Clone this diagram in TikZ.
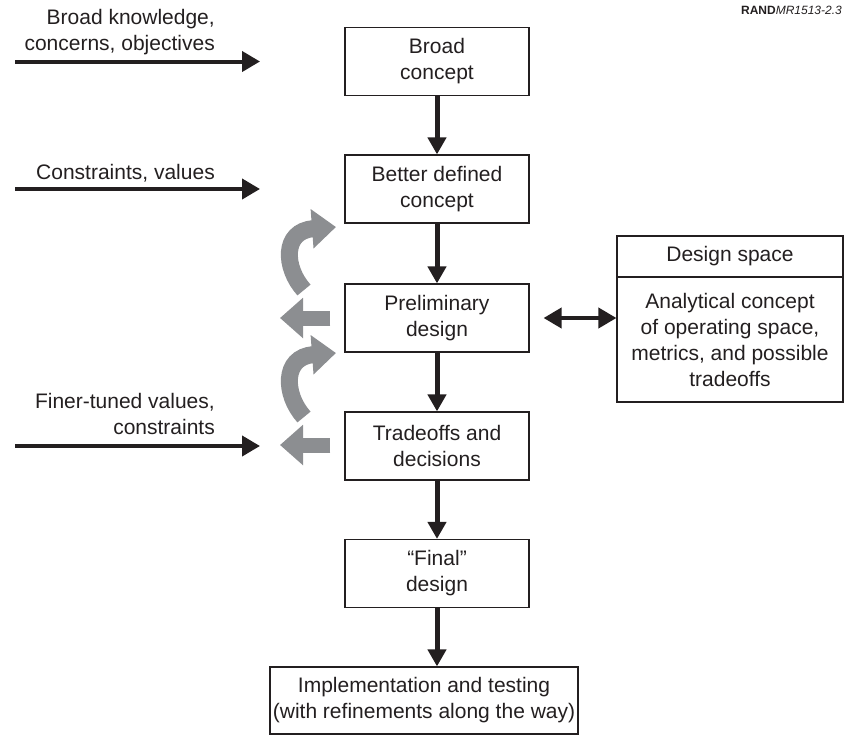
\documentclass[tikz,border=0pt]{standalone}
\usepackage{fontspec}
\setmainfont{Liberation Sans}
\usetikzlibrary{arrows.meta}
\definecolor{ink}{HTML}{231F20}
\definecolor{gcol}{HTML}{8C8E91}
\begin{document}
\begin{tikzpicture}[x=1pt,y=-1pt,
  font=\fontsize{21}{26}\selectfont,
  box/.style={draw=ink, line width=1.2pt, text=ink, align=center,
    minimum width=184pt, minimum height=68pt, inner sep=0pt},
  lbl/.style={text=ink, align=right, inner sep=0pt},
  flow/.style={draw=ink, line width=5pt, -{Triangle[length=17pt,width=18pt]}},
  inarr/.style={draw=ink, line width=4pt, -{Triangle[length=18pt,width=20pt]}},
  dbl/.style={draw=ink, line width=4pt, {Triangle[length=18pt,width=20pt]}-{Triangle[length=18pt,width=20pt]}},
  garr/.style={draw=gcol, line width=17pt, -{Triangle[length=24pt,width=38pt]}},
  gstr/.style={draw=gcol, line width=15pt, -{Triangle[length=23pt,width=39pt]}}
]
\useasboundingbox (0,0) rectangle (847,736);

% main column
\node[box] (b1) at (437,61.5) {Broad\\concept};
\node[box] (b2) at (437,189) {Better defined\\concept};
\node[box] (b3) at (437,318) {Preliminary\\design};
\node[box] (b4) at (437,446) {Tradeoffs and\\decisions};
\node[box] (b5) at (437,573.5) {“Final”\\design};
\node[box, minimum width=308pt, minimum height=67pt] (b6) at (424,700.5)
  {Implementation and testing\\(with refinements along the way)};

% design space
\node[box, minimum width=226pt, minimum height=41pt] (dsh) at (730,256.5) {Design space};
\node[box, minimum width=226pt, minimum height=125pt] (dsb) at (730,339.5)
  {Analytical concept\\of operating space,\\metrics, and possible\\tradeoffs};

% flow arrows
\draw[flow] (b1) -- (b2);
\draw[flow] (b2) -- (b3);
\draw[flow] (b3) -- (b4);
\draw[flow] (b4) -- (b5);
\draw[flow] (b5.south) -- (b5.south |- b6.north);
\draw[dbl] ([xshift=14pt]b3.east) -- (b3.east -| dsb.west);

% input arrows and labels
\coordinate (s1) at (15,61.5);  \coordinate (e1) at (260,61.5);
\coordinate (s2) at (15,189);   \coordinate (e2) at (260,189);
\coordinate (s3) at (15,446);   \coordinate (e3) at (260,446);
\draw[inarr] (s1) -- (e1);
\draw[inarr] (s2) -- (e2);
\draw[inarr] (s3) -- (e3);
\node[lbl, anchor=base east] (t1) at (215,50) {Broad knowledge,\\concerns, objectives};
\node[lbl, anchor=base east] (t2) at (215,179) {Constraints, values};
\node[lbl, anchor=base east] (t3) at (215,434) {Finer-tuned values,\\constraints};

% gray feedback arrows
\coordinate (c1s) at (304,290); \coordinate (c1e) at (336,227);
\coordinate (c2s) at (304,417); \coordinate (c2e) at (336,353);
\draw[garr] (c1s) .. controls (284,268) and (282,231) .. (c1e);
\draw[garr] (c2s) .. controls (284,395) and (282,357) .. (c2e);
\coordinate (g1e) at (280,318);
\coordinate (g2e) at (280,445);
\draw[gstr] ([xshift=-14pt]b3.west) -- (g1e);
\draw[gstr] ([xshift=-14pt]b4.west |- g2e) -- (g2e);

% figure id
\node[anchor=base east, inner sep=0pt, text=ink, font=\fontsize{12}{14}\selectfont] (rand)
  at (842,15) {\textbf{RAND}\textit{MR1513-2.3}};
\end{tikzpicture}
\end{document}
